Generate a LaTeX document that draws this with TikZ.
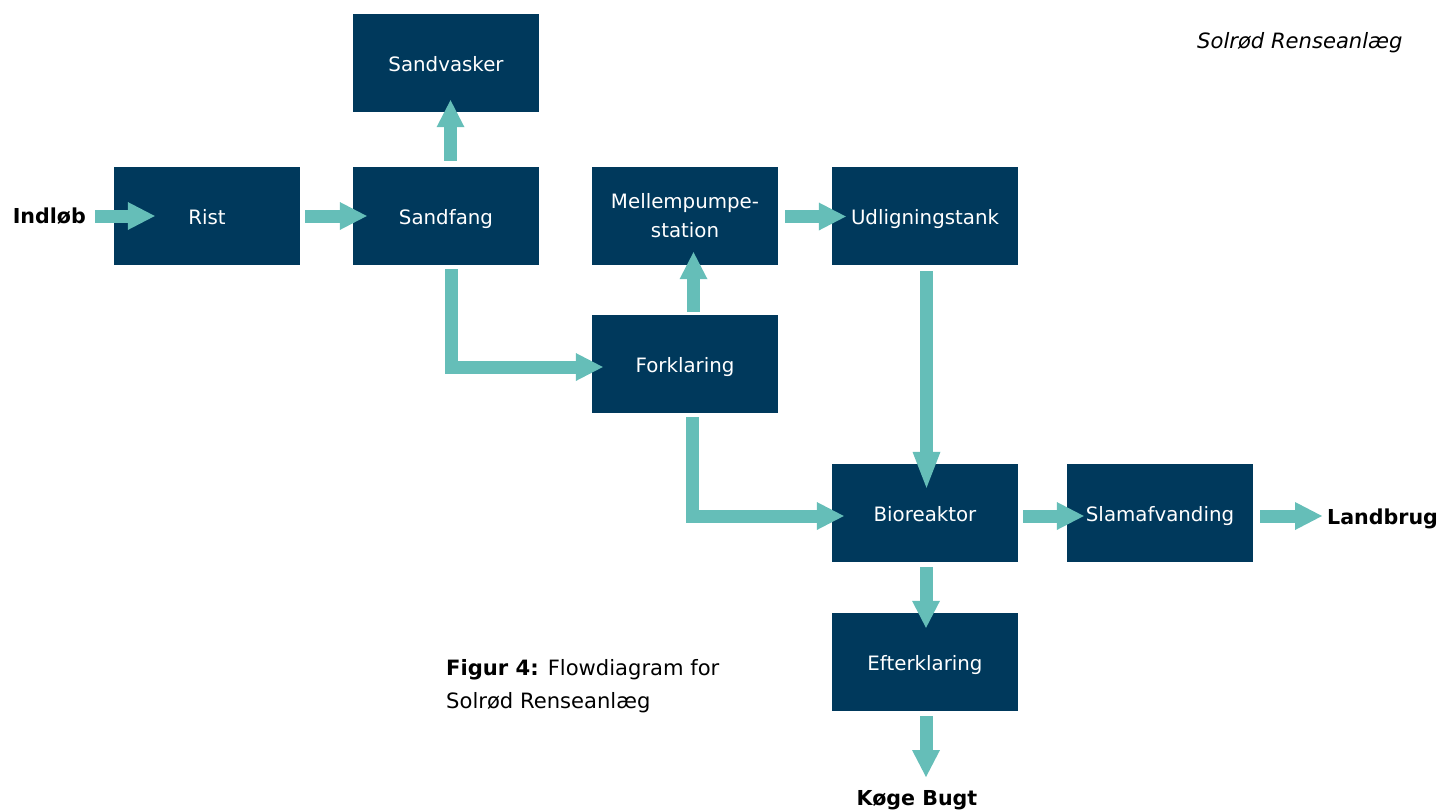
\documentclass[tikz,border=0pt]{standalone}
\usepackage{fontspec}
\setmainfont{DejaVu Sans}
\usetikzlibrary{arrows.meta,calc}
\definecolor{boxblue}{RGB}{0,57,92}
\definecolor{flowteal}{RGB}{101,190,184}
\begin{document}
\begin{tikzpicture}[x=1pt,y=-1pt,
  every node/.style={font=\fontsize{19.8}{29}\selectfont},
  box/.style={fill=boxblue, text=white, minimum width=186pt, minimum height=98pt, inner sep=0pt, align=center},
  sbox/.style={box, text height=18pt, text depth=2pt},
  flow/.style={draw=flowteal, line width=13pt, line join=miter, line cap=butt, -{Triangle[width=28pt,length=27pt,line width=0pt]}},
  flowlong/.style={flow, -{Triangle[width=28pt,length=36pt,line width=0pt]}},
  lbl/.style={inner sep=0pt, font=\fontsize{20.6}{29}\selectfont\bfseries},
  txt/.style={inner sep=0pt, font=\fontsize{21.1}{29}\selectfont}
]
\useasboundingbox (0,0) rectangle (1439,809);

% boxes
\node[sbox] (sandvasker) at (446,63) {Sandvasker};
\node[sbox] (rist) at (207,216) {Rist};
\node[sbox] (sandfang) at (446,216) {Sandfang};
\node[box] (mellem) at (685,216) {Mellempumpe-\\station};
\node[sbox] (udl) at (925,216) {Udligningstank};
\node[sbox] (forkl) at (685,364) {Forklaring};
\node[sbox] (bio) at (925,513) {Bioreaktor};
\node[sbox] (slam) at (1160,513) {Slamafvanding};
\node[sbox] (efter) at (925,662) {Efterklaring};

% labels
\node[lbl, anchor=base east] (indlob) at (86,223) {Indløb};
\node[lbl, anchor=base west] (landbrug) at (1327,524) {Landbrug};
\node[lbl, anchor=base] (koge) at (917,805) {Køge Bugt};
\node[txt, anchor=base west, font=\fontsize{21.1}{29}\selectfont\itshape] (title) at (1197,48) {Solrød Renseanlæg};
\node[txt, anchor=base west] (cap1) at (446,675) {\textbf{Figur 4:} Flowdiagram for};
\node[txt, anchor=base west] (cap2) at (446,708) {Solrød Renseanlæg};

% connectors
\draw[flow] ($(indlob.base east)+(9,-7)$) -- ($(rist.west)+(41,0)$);
\draw[flow] ($(rist.east)+(5,0)$) -- ($(sandfang.west)+(14,0)$);
\draw[flow] ($(sandfang.north)+(4.5,-6)$) -- ($(sandvasker.south)+(4.5,-12)$);
\draw[flow] ($(sandfang.south)+(5,4)$) |- ($(forkl.west)+(11,3)$);
\draw[flow] ($(forkl.north)+(8.5,-3)$) -- ($(mellem.south)+(8.5,-13)$);
\draw[flow] ($(mellem.east)+(7,0.5)$) -- ($(udl.west)+(14,0.5)$);
\draw[flowlong] ($(udl.south)+(1.5,6)$) -- ($(bio.north)+(1.5,24)$);
\draw[flow] ($(forkl.south)+(7,4)$) |- ($(bio.west)+(12,3)$);
\draw[flow] ($(bio.east)+(5,3)$) -- ($(slam.west)+(17,3)$);
\draw[flow] ($(slam.east)+(7,3)$) -- ($(landbrug.base west)+(-5,-8)$);
\draw[flow] ($(bio.south)+(1,5)$) -- ($(efter.north)+(1,15)$);
\draw[flow] ($(efter.south)+(1,5)$) -- ($(koge.base)+(9,-28)$);
\end{tikzpicture}
\end{document}
